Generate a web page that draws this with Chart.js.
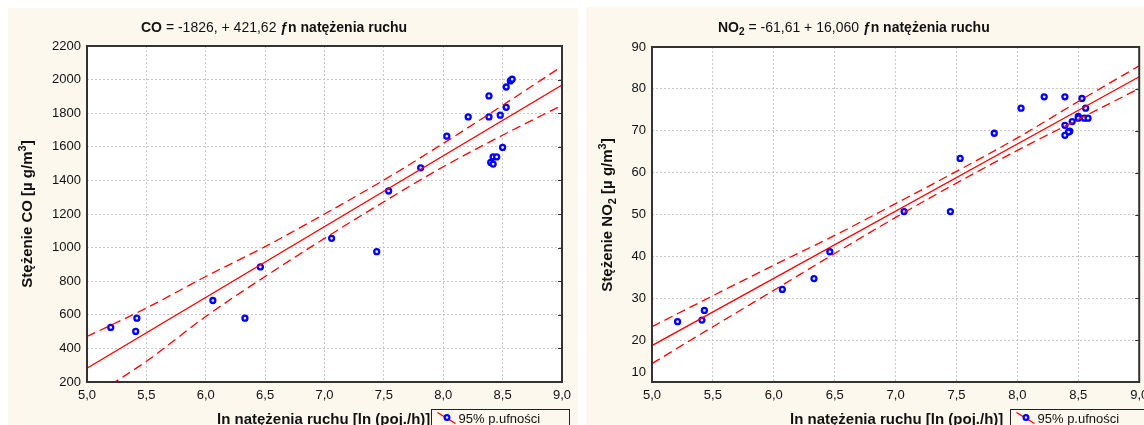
<!DOCTYPE html>
<html>
<head>
<meta charset="utf-8">
<script src="https://cdn.jsdelivr.net/npm/chart.js@4"></script>
<style>
  body { margin: 0; background: #fff; width: 1144px; height: 425px; position: relative; overflow: hidden; }
  canvas { position: absolute; }
  #coChart { left: 8px; top: 8px; }
  #no2Chart { left: 586px; top: 7px; }
</style>
</head>
<body>
<canvas id="coChart" width="570" height="417"></canvas>
<canvas id="no2Chart" width="558" height="418"></canvas>
<script>
// ln of traffic volume for each station (x) and measured concentrations
const xCO  = [5.20, 5.41, 5.42, 6.06, 6.33, 6.46, 7.06, 7.44, 7.54, 7.81, 8.03, 8.21, 8.385, 8.385, 8.40, 8.42, 8.42, 8.45, 8.48, 8.50, 8.53, 8.53, 8.565, 8.58];
const yCO  = [525, 501, 580, 685, 580, 885, 1055, 976, 1337, 1475, 1663, 1778, 1903, 1778, 1507, 1497, 1540, 1540, 1788, 1596, 1835, 1956, 1992, 2002];

const xNO2 = [5.21, 5.41, 5.43, 6.07, 6.33, 6.46, 7.07, 7.45, 7.53, 7.81, 8.03, 8.22, 8.39, 8.53, 8.56, 8.50, 8.50, 8.55, 8.58, 8.45, 8.39, 8.43, 8.42, 8.39];
const yNO2 = [24.4, 24.8, 27.1, 32.1, 34.7, 41.1, 50.7, 50.7, 63.4, 69.4, 75.4, 78.1, 78.1, 77.7, 75.4, 73.4, 73.0, 73.0, 73.0, 72.2, 71.3, 69.9, 69.7, 68.9];

// regression line ends and 95% confidence band, read at these x positions
const lineX = [5.0, 9.0];
const coLine = [282, 1968];
const no2Line = [18.7, 82.9];

const bandX = [5.0, 5.5, 6.0, 6.5, 7.0, 7.5, 8.0, 8.5, 9.0];
const coUpper  = [471, 640, 828, 1006, 1200, 1402, 1620, 1847, 2079];
const coLower  = [95, 323, 590, 828, 1055, 1273, 1481, 1669, 1847];
const no2Upper = [23.2, 30.6, 37.9, 45.0, 52.6, 60.3, 68.3, 77.0, 85.5];
const no2Lower = [14.4, 23.2, 31.9, 40.7, 49.3, 57.5, 65.3, 72.7, 80.1];

const xTicks = { min: 5, max: 9, step: 0.5 };
const coTicks = { min: 200, max: 2200, step: 200 };
const no2Ticks = { min: 10, max: 90, step: 10 };

const FONT = '"Liberation Sans", Arial, sans-serif';
const BG = '#fcf8ee';

function pts(xs, ys) {
    return xs.map((x, i) => ({ x: x, y: ys[i] }));
}

function richWidth(ctx, segs, size) {
    let w = 0;
    for (const s of segs) {
        const fs = (s.sub || s.sup) ? Math.round(size * 0.7) : size;
        ctx.font = (s.bold ? 'bold ' : '') + fs + 'px ' + FONT;
        w += ctx.measureText(s.t).width;
    }
    return w;
}

function drawRich(ctx, segs, x, y, size) {
    ctx.textBaseline = 'middle';
    ctx.textAlign = 'left';
    for (const s of segs) {
        const fs = (s.sub || s.sup) ? Math.round(size * 0.7) : size;
        ctx.font = (s.bold ? 'bold ' : '') + fs + 'px ' + FONT;
        const dy = s.sub ? size * 0.3 : (s.sup ? -size * 0.35 : 0);
        ctx.fillText(s.t, x, y + dy);
        x += ctx.measureText(s.t).width;
    }
}

// background, frame, titles and the small legend box
const decoPlugin = {
    id: 'deco',
    beforeDraw(chart, args, o) {
        const { ctx, chartArea: a } = chart;
        ctx.save();
        ctx.fillStyle = BG;
        ctx.fillRect(0, 0, chart.width, chart.height);
        ctx.fillStyle = '#fff';
        ctx.fillRect(a.left, a.top, a.right - a.left, a.bottom - a.top);
        ctx.restore();
    },
    afterDraw(chart, args, o) {
        const { ctx, chartArea: a } = chart;
        const ys = chart.scales.y;
        ctx.save();
        // frame
        ctx.strokeStyle = '#333';
        ctx.lineWidth = 2;
        ctx.strokeRect(a.left, a.top, a.right - a.left, a.bottom - a.top);
        // small inward ticks on right edge
        ctx.lineWidth = 1;
        ys.ticks.forEach(t => {
            const py = Math.round(ys.getPixelForValue(t.value)) + 0.5;
            ctx.beginPath();
            ctx.moveTo(a.right - 4, py);
            ctx.lineTo(a.right, py);
            ctx.stroke();
        });
        ctx.fillStyle = '#111';
        // lowest y label drawn by hand (shifted up in the original)
        if (o.lowLabel) {
            ctx.font = '13px ' + FONT;
            ctx.textAlign = 'right';
            ctx.textBaseline = 'middle';
            ctx.fillText(o.lowLabel.t, a.left - 6, o.lowLabel.y);
        }
        // title
        drawRich(ctx, o.title, o.titleX, o.titleY, 14);
        // x axis title
        drawRich(ctx, [{ t: 'ln natężenia ruchu [ln (poj./h)]', bold: true }], o.xTitleX, o.xTitleY, 15);
        // y axis title
        ctx.save();
        ctx.translate(o.yTitleX, o.yTitleY);
        ctx.rotate(-Math.PI / 2);
        const w = richWidth(ctx, o.yTitle, 15);
        drawRich(ctx, o.yTitle, -w / 2, 0, 15);
        ctx.restore();
        // legend box
        const bx = o.legendX + 0.5, by = o.legendY + 0.5;
        ctx.fillStyle = BG;
        ctx.fillRect(bx, by, o.legendW, 40);
        ctx.strokeStyle = '#222';
        ctx.strokeRect(bx, by, o.legendW, 40);
        ctx.strokeStyle = '#ff0000';
        ctx.lineWidth = 1.3;
        ctx.beginPath();
        ctx.moveTo(bx + 6, by + 3);
        ctx.lineTo(bx + 24, by + 14);
        ctx.stroke();
        ctx.beginPath();
        ctx.arc(bx + 15.5, by + 8, 2.4, 0, Math.PI * 2);
        ctx.fillStyle = '#e6e8ff';
        ctx.fill();
        ctx.strokeStyle = '#0000ff';
        ctx.lineWidth = 2.2;
        ctx.stroke();
        ctx.fillStyle = '#111';
        ctx.font = '13px ' + FONT;
        ctx.textAlign = 'left';
        ctx.textBaseline = 'middle';
        ctx.fillText('95% p.ufności', bx + 27, by + 9.5);
        ctx.restore();
    }
};

function makeChart(id, d) {
    const ctx = document.getElementById(id).getContext('2d');
    return new Chart(ctx, {
        type: 'scatter',
        data: {
            datasets: [{
                label: 'dane',
                data: pts(d.x, d.y),
                pointRadius: 2.5,
                pointHoverRadius: 2.5,
                pointBackgroundColor: '#e6e8ff',
                pointBorderColor: '#0000ff',
                pointBorderWidth: 2.3,
                showLine: false,
                order: 2
            }, {
                label: 'regresja',
                data: pts(lineX, d.line),
                showLine: true,
                borderColor: '#ff0000',
                borderWidth: 1.3,
                pointRadius: 0,
                order: 1
            }, {
                label: 'górna',
                data: pts(bandX, d.upper),
                showLine: true,
                borderColor: '#ff0000',
                borderWidth: 1.3,
                borderDash: [9, 5],
                cubicInterpolationMode: 'monotone',
                pointRadius: 0,
                order: 1
            }, {
                label: 'dolna',
                data: pts(bandX, d.lower),
                showLine: true,
                borderColor: '#ff0000',
                borderWidth: 1.3,
                borderDash: [9, 5],
                cubicInterpolationMode: 'monotone',
                pointRadius: 0,
                order: 1
            }]
        },
        options: {
            responsive: false,
            devicePixelRatio: 1,
            animation: false,
            events: [],
            layout: { padding: d.padding },
            plugins: {
                legend: { display: false },
                tooltip: { enabled: false },
                deco: d.deco
            },
            scales: {
                x: {
                    type: 'linear',
                    min: xTicks.min,
                    max: xTicks.max,
                    afterFit(s) { s.height = 43; s.paddingLeft = 0; s.paddingRight = 0; },
                    ticks: {
                        stepSize: xTicks.step,
                        padding: 6,
                        color: '#111',
                        font: { family: FONT, size: 13 },
                        maxRotation: 0,
                        callback: v => v.toFixed(1).replace('.', ',')
                    },
                    grid: { color: '#c8c8c8', drawTicks: false },
                    border: { display: false, dash: [2, 2] }
                },
                y: {
                    min: d.ticks.min,
                    max: d.ticks.max,
                    afterFit(s) { s.width = d.yWidth; s.paddingTop = 0; s.paddingBottom = 0; },
                    ticks: {
                        stepSize: d.ticks.step,
                        padding: 6,
                        color: '#111',
                        font: { family: FONT, size: 13 },
                        callback: v => (d.deco.lowLabel && v === d.ticks.min) ? '' : String(v)
                    },
                    grid: { color: '#c8c8c8', drawTicks: false },
                    border: { display: false, dash: [2, 2] }
                }
            }
        },
        plugins: [decoPlugin]
    });
}

makeChart('coChart', {
    x: xCO, y: yCO, line: coLine, upper: coUpper, lower: coLower,
    ticks: coTicks,
    yWidth: 79,
    padding: { top: 38, right: 16, left: 0, bottom: 0 },
    deco: {
        title: [{ t: 'CO', bold: true }, { t: ' = -1826, + 421,62 ' }, { t: 'ƒn natężenia ruchu', bold: true }],
        titleX: 133, titleY: 20,
        xTitleX: 209, xTitleY: 412,
        yTitle: [{ t: 'Stężenie CO [µ g/m', bold: true }, { t: '3', bold: true, sup: true }, { t: ']', bold: true }],
        yTitleX: 20, yTitleY: 206,
        legendX: 423, legendY: 401, legendW: 138
    }
});

makeChart('no2Chart', {
    x: xNO2, y: yNO2, line: no2Line, upper: no2Upper, lower: no2Lower,
    ticks: no2Ticks,
    yWidth: 66,
    padding: { top: 40, right: 4, left: 0, bottom: 0 },
    deco: {
        title: [{ t: 'NO', bold: true }, { t: '2', bold: true, sub: true }, { t: ' = -61,61 + 16,060 ' }, { t: 'ƒn natężenia ruchu', bold: true }],
        titleX: 132, titleY: 21,
        xTitleX: 204, xTitleY: 413,
        yTitle: [{ t: 'Stężenie NO', bold: true }, { t: '2', bold: true, sub: true }, { t: ' [µ g/m', bold: true }, { t: '3', bold: true, sup: true }, { t: ']', bold: true }],
        yTitleX: 22, yTitleY: 208,
        legendX: 424, legendY: 402, legendW: 140,
        lowLabel: { t: '10', y: 365 }
    }
});
</script>
</body>
</html>
